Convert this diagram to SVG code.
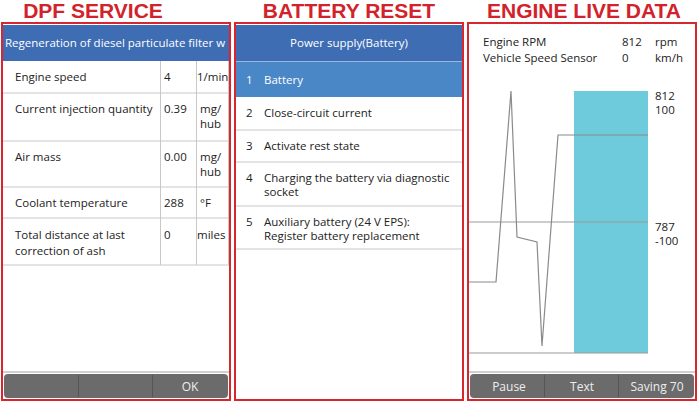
<svg xmlns="http://www.w3.org/2000/svg" width="700" height="403" viewBox="0 0 700 403">
<style>
.title{font-family:"Liberation Sans",Arial,sans-serif;font-weight:bold;font-size:21px;fill:#d2222b;text-anchor:middle}
.t{font-family:"Open Sans","Noto Sans",sans-serif;font-size:11.5px;fill:#222}
.w{font-family:"Open Sans","Noto Sans",sans-serif;font-size:11.5px;fill:#fff}
.b{font-family:"Open Sans","Noto Sans",sans-serif;font-size:12px;fill:#eee;text-anchor:middle}
.frame{fill:#fff;stroke:#d8262e;stroke-width:2}
.grid{stroke:#c8c8c8;stroke-width:1;fill:none}
.bar{fill:#6b6b6b}
.sep{stroke:#555;stroke-width:1}
.plot{stroke:#8a8a8a;stroke-width:1.2;fill:none}
</style>
<defs>
<clipPath id="c1"><rect x="3" y="24" width="226" height="376"/></clipPath>
</defs>
<rect width="700" height="403" fill="#fff"/>

<g id="dpf-service">
<text class="title" x="93" y="18">DPF SERVICE</text>
<rect class="frame" x="2" y="23" width="228" height="377"/>
<g clip-path="url(#c1)">
<rect x="3" y="25" width="226" height="36" fill="#3e6db4"/>
<text class="w" x="5" y="47" font-size="12">Regeneration of diesel particulate filter w</text>
<line class="grid" x1="3" y1="93" x2="229" y2="93"/>
<line class="grid" x1="3" y1="141" x2="229" y2="141"/>
<line class="grid" x1="3" y1="187" x2="229" y2="187"/>
<line class="grid" x1="3" y1="218" x2="229" y2="218"/>
<line class="grid" x1="3" y1="265" x2="229" y2="265"/>
<line class="grid" x1="160.5" y1="61" x2="160.5" y2="265"/>
<line class="grid" x1="196.5" y1="61" x2="196.5" y2="265"/>
<line class="grid" x1="228.5" y1="61" x2="228.5" y2="265"/>
<text class="t" x="15" y="81">Engine speed</text>
<text class="t" x="164" y="81">4</text>
<text class="t" x="197" y="81">1/min</text>
<text class="t" x="15" y="113">Current injection quantity</text>
<text class="t" x="164" y="113">0.39</text>
<text class="t" x="200" y="113">mg/</text>
<text class="t" x="200" y="128">hub</text>
<text class="t" x="15" y="161">Air mass</text>
<text class="t" x="164" y="161">0.00</text>
<text class="t" x="200" y="161">mg/</text>
<text class="t" x="200" y="176">hub</text>
<text class="t" x="15" y="207">Coolant temperature</text>
<text class="t" x="164" y="207">288</text>
<text class="t" x="200" y="207">°F</text>
<text class="t" x="15" y="239">Total distance at last</text>
<text class="t" x="15" y="255">correction of ash</text>
<text class="t" x="164" y="239">0</text>
<text class="t" x="197" y="239">miles</text>
</g>
<rect x="3" y="371" width="226" height="2" fill="#d0d0d0"/>
<rect class="bar" x="4" y="374" width="224" height="24" rx="4"/>
<line class="sep" x1="78.5" y1="375" x2="78.5" y2="397"/>
<line class="sep" x1="152.5" y1="375" x2="152.5" y2="397"/>
<text class="b" x="190" y="391">OK</text>
</g>

<g id="battery-reset">
<text class="title" x="349" y="18">BATTERY RESET</text>
<rect class="frame" x="235" y="23" width="228" height="377"/>
<rect x="236" y="25" width="226" height="36" fill="#3e6db4"/>
<line x1="236" y1="61.5" x2="462" y2="61.5" stroke="#9bb8dc" stroke-width="1"/>
<text class="w" x="349" y="47" text-anchor="middle">Power supply(Battery)</text>
<rect x="236" y="62" width="226" height="35" fill="#4a87c7"/>
<text class="w" x="246" y="84">1</text>
<text class="w" x="264" y="84">Battery</text>
<line class="grid" x1="236" y1="130" x2="462" y2="130"/>
<line class="grid" x1="236" y1="162" x2="462" y2="162"/>
<line class="grid" x1="236" y1="206" x2="462" y2="206"/>
<line class="grid" x1="236" y1="249" x2="462" y2="249"/>
<text class="t" x="246" y="117">2</text>
<text class="t" x="264" y="117">Close-circuit current</text>
<text class="t" x="246" y="150">3</text>
<text class="t" x="264" y="150">Activate rest state</text>
<text class="t" x="246" y="182">4</text>
<text class="t" x="264" y="182">Charging the battery via diagnostic</text>
<text class="t" x="264" y="196">socket</text>
<text class="t" x="246" y="226">5</text>
<text class="t" x="264" y="226">Auxiliary battery (24 V EPS):</text>
<text class="t" x="264" y="240">Register battery replacement</text>
</g>

<g id="engine-live-data">
<text class="title" x="584" y="18">ENGINE LIVE DATA</text>
<rect class="frame" x="468" y="23" width="228" height="377" stroke="#dc4a50"/>
<text class="t" x="483" y="46">Engine RPM</text>
<text class="t" x="622" y="46">812</text>
<text class="t" x="655" y="46">rpm</text>
<text class="t" x="483" y="62">Vehicle Speed Sensor</text>
<text class="t" x="622" y="62">0</text>
<text class="t" x="655" y="62">km/h</text>
<rect x="574" y="91" width="74" height="262" fill="#6dcbdc"/>
<line x1="469" y1="222" x2="648" y2="222" stroke="#999" stroke-width="1"/>
<line x1="469" y1="353" x2="648" y2="353" stroke="#999" stroke-width="1"/>
<polyline class="plot" points="469,282 496,282 511,91 517,237 537,242 542,346 558,135 648,135"/>
<text class="t" x="655" y="100">812</text>
<text class="t" x="655" y="114">100</text>
<text class="t" x="655" y="231">787</text>
<text class="t" x="655" y="245">-100</text>
<rect x="469" y="371" width="226" height="2" fill="#d0d0d0"/>
<rect class="bar" x="470" y="374" width="224" height="24" rx="4"/>
<line class="sep" x1="544.5" y1="375" x2="544.5" y2="397"/>
<line class="sep" x1="618.5" y1="375" x2="618.5" y2="397"/>
<text class="b" x="509" y="391">Pause</text>
<text class="b" x="582" y="391">Text</text>
<text class="b" x="657" y="391">Saving 70</text>
</g>
</svg>
